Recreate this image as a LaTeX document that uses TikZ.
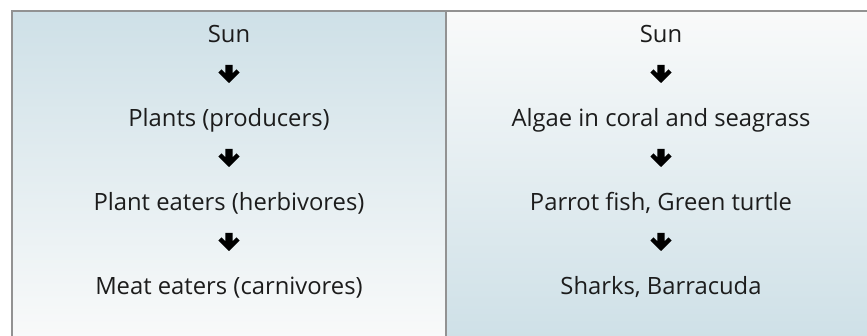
\documentclass[tikz,border=0pt]{standalone}
\usepackage{fontspec}
\setmainfont{Open Sans}
\definecolor{seablue}{HTML}{CEE0E7}
\definecolor{paleside}{HTML}{F9FAFA}
\definecolor{rulegray}{HTML}{929292}
\definecolor{inkdark}{HTML}{1C1C1C}
\tikzset{
  x=1pt, y=-1pt,
  stage/.style={anchor=base, inner sep=0pt, text=inkdark,
                font=\fontsize{23.8}{28}\selectfont},
  rule/.style={draw=rulegray, line width=2pt},
  downarr/.pic={
    \fill[black] (-3.6,0) -- (3.6,0) -- (3.6,8.2) -- (7.6,4.4) -- (10.6,7.6)
      -- (0,18) -- (-10.6,7.6) -- (-7.6,4.4) -- (-3.6,8.2) -- cycle;
  }
}
\begin{document}
\begin{tikzpicture}
\useasboundingbox (0,0) rectangle (867,336);
% shaded panels
\fill[top color=seablue, bottom color=paleside] (12,11) rectangle (446,340);
\fill[top color=paleside, bottom color=seablue] (446,11) rectangle (870,340);
% frame lines
\draw[rule] (12,340) -- (12,11) -- (870,11);
\draw[rule] (446,11) -- (446,340);

% land food chain
\node[stage] (lsun)   at (229,43)  {Sun};
\node[stage] (lprod)  at (229,127) {Plants (producers)};
\node[stage] (lherb)  at (229,211) {Plant eaters (herbivores)};
\node[stage] (lcarn)  at (229,295) {Meat eaters (carnivores)};

% reef food chain
\node[stage] (rsun)   at (661,43)  {Sun};
\node[stage] (ralgae) at (661,127) {Algae in coral and seagrass};
\node[stage] (rgraze) at (661,211) {Parrot fish, Green turtle};
\node[stage] (rshark) at (661,295) {Sharks, Barracuda};

% arrows between stages
\foreach \n in {lsun,lprod,lherb,rsun,ralgae,rgraze}
  \pic at ([yshift=-22pt]\n.base) {downarr};
\end{tikzpicture}
\end{document}
